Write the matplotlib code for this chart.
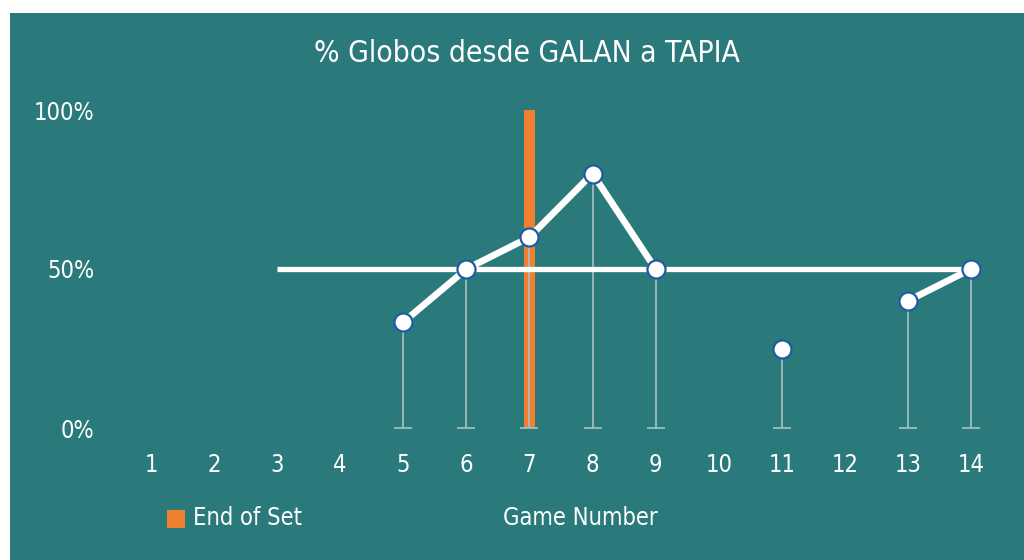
import matplotlib
matplotlib.use("Agg")
import matplotlib.pyplot as plt
from matplotlib import font_manager
import numpy as np
from matplotlib.patches import Rectangle

names = {f.name for f in font_manager.fontManager.ttflist}
cond = [f for f in font_manager.fontManager.ttflist
        if ("Narrow" in f.name or "Condensed" in f.name
            or (isinstance(f.stretch, str) and "condensed" in f.stretch)
            or (isinstance(f.stretch, int) and f.stretch < 500))]
FONT = None
STRETCH = "normal"
for c in cond:
    FONT = c.name
    STRETCH = c.stretch
    break
if FONT is None:
    FONT = "Roboto" if "Roboto" in names else "DejaVu Sans"
plt.rcParams['font.family'] = [FONT, 'DejaVu Sans']
plt.rcParams['font.stretch'] = STRETCH

games = list(range(1, 15))
pct = [None, None, None, None, 33.3, 50, 60, 80, 50, None, 25, None, 40, 50]
ref_start, ref_end, ref_value = 3, 14, 50
end_of_set_game = 7
end_of_set_value = 100

title = "% Globos desde GALAN a TAPIA"
xlabel = "Game Number"
legend_label = "End of Set"
yticks = [0, 50, 100]
ytick_labels = ["0%", "50%", "100%"]

TEAL = "#2B7A7B"
ORANGE = "#F08030"
WHITE = "#FFFFFF"
BLUE = "#1F5AA6"
GRAY = "#A8C2C2"

W, H = 1024, 560
fig = plt.figure(figsize=(W / 100, H / 100), dpi=100, facecolor="white")
bg = Rectangle((10 / W, 0), 1 - 10 / W, 1 - 13 / H, transform=fig.transFigure,
               facecolor=TEAL, edgecolor="none", zorder=-10)
fig.add_artist(bg)

unit = 820 / 13
left_px = 151 - 0.5 * unit
ax = fig.add_axes([left_px / W, (H - 428) / H, 14 * unit / W, 318 / H])
ax.set_zorder(5)
ax.set_facecolor("none")
ax.set_xlim(0.5, 14.5)
ax.set_ylim(0, 100)
for s in ax.spines.values():
    s.set_visible(False)

ax.bar([end_of_set_game], [end_of_set_value], width=0.175, color=ORANGE, zorder=2)

ax.plot([ref_start, ref_end], [ref_value, ref_value], color=WHITE, lw=3.8, zorder=3,
        solid_capstyle="butt")

x = np.array(games, dtype=float)
y = np.array([np.nan if v is None else v for v in pct], dtype=float)
valid = ~np.isnan(y)

ax.vlines(x[valid], 0, y[valid], color=GRAY, lw=1.2, zorder=2.5)
ax.plot(x[valid], np.zeros(valid.sum()), linestyle="none", marker="_", markersize=13,
        markeredgewidth=1.2, color=GRAY, zorder=2.5, clip_on=False)

ax.plot(x, y, color=WHITE, lw=4.8, zorder=4, solid_capstyle="butt")
ax.plot(x[valid], y[valid], linestyle="none", marker="o", markersize=13,
        markerfacecolor=WHITE, markeredgecolor=BLUE, markeredgewidth=1.6, zorder=5,
        clip_on=False)

ax.set_xticks(games)
ax.set_xticklabels([str(g) for g in games])
ax.set_yticks(yticks)
ax.set_yticklabels(ytick_labels)
ax.tick_params(axis="both", length=0, labelcolor=WHITE, labelsize=17)
ax.tick_params(axis="x", pad=18)
ax.tick_params(axis="y", pad=18)

fig.text(527 / W, 1 - 54 / H, title, color=WHITE, fontsize=21.5, ha="center", va="center")
fig.text(580 / W, 1 - 518 / H, xlabel, color=WHITE, fontsize=17, ha="center", va="center")
fig.add_artist(Rectangle((167 / W, 1 - 528 / H), 18 / W, 18 / H, transform=fig.transFigure,
                         facecolor=ORANGE, edgecolor="none", zorder=1))
fig.text(193 / W, 1 - 518 / H, legend_label, color=WHITE, fontsize=17, ha="left", va="center")

fig.savefig("out.png", dpi=100, facecolor=fig.get_facecolor())
